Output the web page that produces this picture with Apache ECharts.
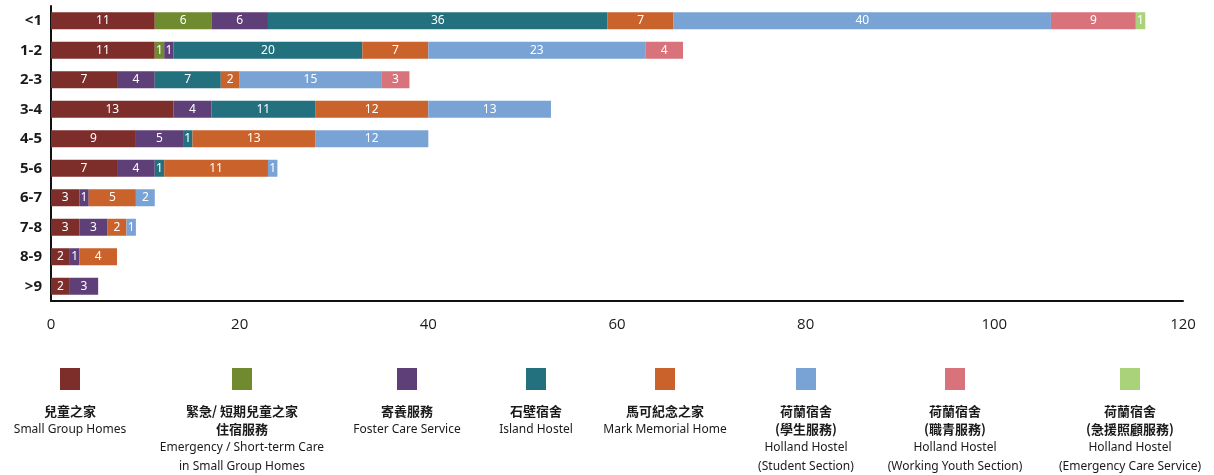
<!DOCTYPE html>
<html>
<head>
<meta charset="utf-8">
<style>
  html, body { margin: 0; padding: 0; background: #ffffff; }
  #chart { width: 1214px; height: 475px; }
</style>
<script src="https://cdn.jsdelivr.net/npm/echarts@6/dist/echarts.min.js"></script>
</head>
<body>
<div id="chart"></div>
<script>
// Length of stay (years) bands, top to bottom
const categories = ['<1', '1-2', '2-3', '3-4', '4-5', '5-6', '6-7', '7-8', '8-9', '>9'];

// Number of residents per service, one value per band
const smallGroupHomes   = [11, 11, 7, 13, 9, 7, 3, 3, 2, 2];
const emergencyShortTerm = [6, 1, 0, 0, 0, 0, 0, 0, 0, 0];
const fosterCare        = [6, 1, 4, 4, 5, 4, 1, 3, 1, 3];
const islandHostel      = [36, 20, 7, 11, 1, 1, 0, 0, 0, 0];
const markMemorialHome  = [7, 7, 2, 12, 13, 11, 5, 2, 4, 0];
const hollandStudent    = [40, 23, 15, 13, 12, 1, 2, 1, 0, 0];
const hollandWorking    = [9, 4, 3, 0, 0, 0, 0, 0, 0, 0];
const hollandEmergency  = [1, 0, 0, 0, 0, 0, 0, 0, 0, 0];

// Value axis ticks
const xTicks = [0, 20, 40, 60, 80, 100, 120];

// Legend captions (Chinese lines, then English lines)
const legendZh = [
  ['兒童之家'],
  ['緊急/ 短期兒童之家', '住宿服務'],
  ['寄養服務'],
  ['石壁宿舍'],
  ['馬可紀念之家'],
  ['荷蘭宿舍', '(學生服務)'],
  ['荷蘭宿舍', '(職青服務)'],
  ['荷蘭宿舍', '(急援照顧服務)']
];
const legendEn = [
  ['Small Group Homes'],
  ['Emergency / Short-term Care', 'in Small Group Homes'],
  ['Foster Care Service'],
  ['Island Hostel'],
  ['Mark Memorial Home'],
  ['Holland Hostel', '(Student Section)'],
  ['Holland Hostel', '(Working Youth Section)'],
  ['Holland Hostel', '(Emergency Care Service)']
];

const seriesData = [smallGroupHomes, emergencyShortTerm, fosterCare, islandHostel,
                    markMemorialHome, hollandStudent, hollandWorking, hollandEmergency];
const colors = ['#7d2e2a', '#6f8a2f', '#5f3f77', '#23707e', '#c9622b', '#7aa3d5', '#d8737b', '#a9d27b'];

// Horizontal centres of the legend entries
const legendCenters = [70, 242, 407, 536, 665, 806, 955, 1130];

const series = seriesData.map((values, i) => ({
  name: legendEn[i].join(' '),
  type: 'bar',
  stack: 'total',
  barWidth: 17,
  data: values,
  itemStyle: { color: colors[i] },
  label: {
    show: true,
    position: 'inside',
    color: '#ffffff',
    fontFamily: 'Noto Sans',
    fontSize: 12,
    formatter: p => (p.value > 0 ? String(p.value) : '')
  },
  emphasis: { disabled: true }
}));

// Legend drawn as swatch above stacked captions
const legendGraphics = [];
legendCenters.forEach((cx, i) => {
  legendGraphics.push({
    type: 'rect',
    shape: { x: cx - 10, y: 368, width: 20, height: 22 },
    style: { fill: colors[i] },
    silent: true
  });
  const lines = legendZh[i].map(t => ({ t, zh: true })).concat(legendEn[i].map(t => ({ t, zh: false })));
  lines.forEach((ln, k) => {
    legendGraphics.push({
      type: 'text',
      silent: true,
      style: {
        x: cx,
        y: 411 + k * 18.5,
        text: ln.t,
        textAlign: 'center',
        textVerticalAlign: 'middle',
        fill: '#1a1a1a',
        fontFamily: ln.zh ? '"Noto Sans CJK TC", sans-serif' : '"Noto Sans", sans-serif',
        fontWeight: ln.zh ? 'bold' : 'normal',
        fontSize: ln.zh ? 13 : 12
      }
    });
  });
});

const chart = echarts.init(document.getElementById('chart'), null, { renderer: 'canvas' });
chart.setOption({
  animation: false,
  backgroundColor: '#ffffff',
  grid: { left: 51, top: 6, width: 1132, height: 295, containLabel: false },
  xAxis: {
    type: 'value',
    min: xTicks[0],
    max: xTicks[xTicks.length - 1],
    interval: xTicks[1] - xTicks[0],
    axisLine: { show: true, onZero: false, lineStyle: { color: '#111111', width: 2 } },
    axisTick: { show: false },
    splitLine: { show: false },
    axisLabel: {
      margin: 16,
      color: '#1a1a1a',
      fontFamily: '"Open Sans", sans-serif',
      fontSize: 15
    }
  },
  yAxis: {
    type: 'category',
    inverse: true,
    data: categories,
    axisLine: { show: true, lineStyle: { color: '#111111', width: 2 } },
    axisTick: { show: false },
    axisLabel: {
      margin: 9,
      color: '#1a1a1a',
      fontFamily: '"Open Sans", sans-serif',
      fontWeight: 'bold',
      fontSize: 15
    }
  },
  series: series,
  graphic: legendGraphics
});
</script>
</body>
</html>
